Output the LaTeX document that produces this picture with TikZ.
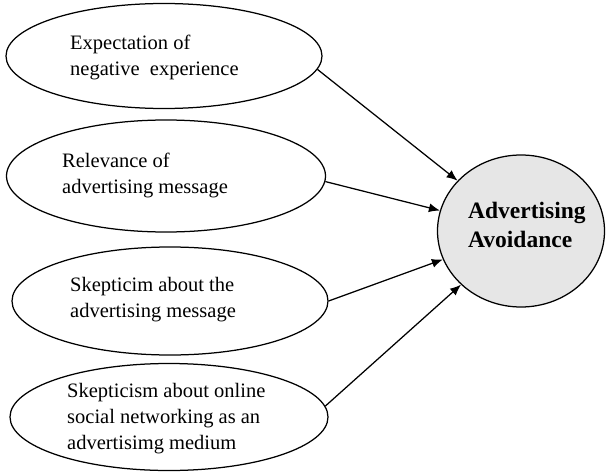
\documentclass[tikz,border=0pt]{standalone}
\usepackage{fontspec}
\setmainfont{Liberation Serif}
\usetikzlibrary{shapes.geometric,arrows.meta}
\definecolor{avfill}{HTML}{E6E6E6}

\begin{document}
\begin{tikzpicture}[x=1pt,y=-1pt,
  factor/.style={draw,ellipse,line width=1.25pt,minimum width=316pt,minimum height=107pt,inner sep=0pt},
  factortext/.style={anchor=west,align=left,inner sep=0pt,font=\fontsize{20.5}{26}\selectfont},
  outcome/.style={draw,ellipse,line width=1.25pt,fill=avfill,minimum width=167pt,minimum height=152pt,inner sep=0pt},
  outcometext/.style={anchor=west,align=left,inner sep=0pt,font=\bfseries\fontsize{23.5}{29}\selectfont},
  link/.style={-{Latex[length=11pt,width=9pt]},line width=1.25pt}]
\useasboundingbox (0,0) rectangle (609,473);
% ---- the four antecedents
\node[factor,minimum height=105pt] (e1) at (164,56) {};
\node[factor,minimum width=319pt,minimum height=112pt] (e2) at (166,176) {};
\node[factor,minimum height=108pt] (e3) at (170,301) {};
\node[factor,minimum width=318pt] (e4) at (169,417) {};
\node[factortext] (t1) at (70,57) {Expectation of\\negative\ \ experience};
\node[factortext] (t2) at (62,175) {Relevance of\\advertising message};
\node[factortext] (t3) at (70,300) {Skepticim about the\\advertising message};
\node[factortext] (t4) at (67,419) {Skepticism about online\\social networking as an\\advertisimg medium};
% ---- outcome
\node[outcome] (av) at (521,231) {};
\node[outcometext] (tav) at (468,225) {Advertising\\Avoidance};
% ---- paths
\draw[link] (e1.-5) -- (av);
\draw[link] (e2.-2) -- (av);
\draw[link] (e3.east) -- (av);
\draw[link] (e4.4) -- (av);
\end{tikzpicture}
\end{document}
